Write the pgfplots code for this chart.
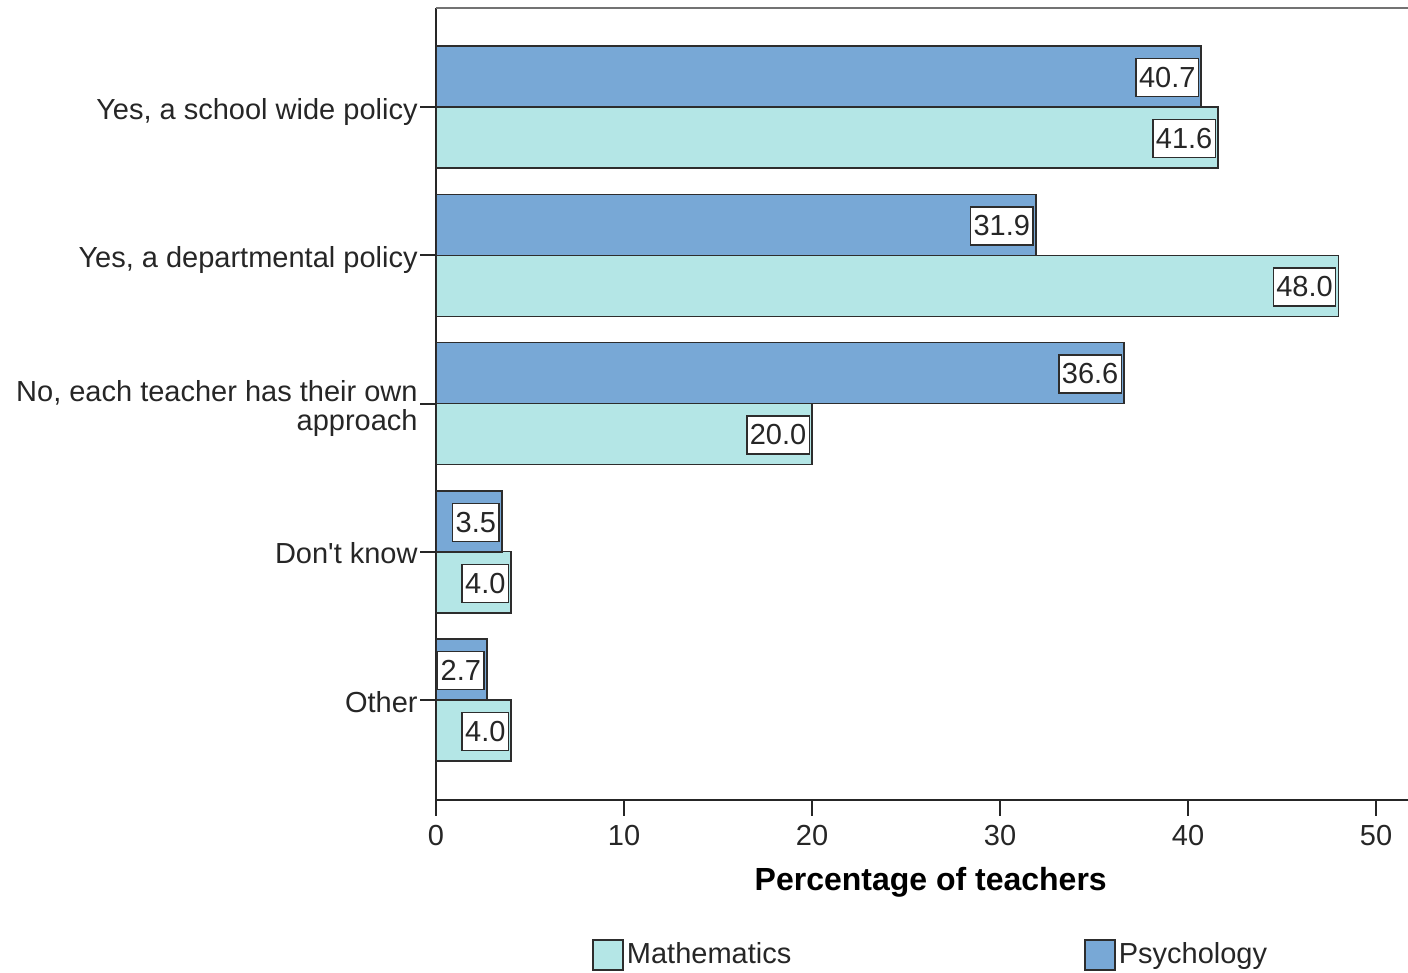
\documentclass[border=0pt]{standalone}
\usepackage{pgfplots}
\pgfplotsset{compat=1.18}
\usepackage{fontspec}
\setmainfont{Liberation Sans}
\definecolor{psy}{RGB}{120,168,214}
\definecolor{mth}{RGB}{180,230,230}
\definecolor{edge}{RGB}{45,45,45}
\begin{document}
\begin{tikzpicture}[x=1pt,y=1pt]
\path[use as bounding box] (0,0) rectangle (704,486.5);
\begin{axis}[
  at={(218pt,86.5pt)}, anchor=south west,
  scale only axis, width=486pt, height=396pt,
  xmin=0, xmax=51.70, ymin=-0.6745, ymax=4.668,
  xbar, bar width=0.4115,
  axis x line*=bottom, axis y line*=left,
  axis line style={-, black!85, line width=1pt},
  tick align=outside, major tick length=8pt,
  tick style={black!85, line width=1pt},
  xtick={0,10,...,50}, ytick={0,1,2,3,4},
  yticklabels={Other, Don\textquotesingle t know, {No, each teacher has their own\\approach}, {Yes, a departmental policy}, {Yes, a school wide policy}},
  yticklabel style={align=right, font=\fontsize{14.5}{14.5}\selectfont, inner sep=1pt, text depth=0pt, yshift=-0.75pt, text=black!85},
  xticklabel style={font=\fontsize{14.5}{15}\selectfont, text=black!85, yshift=-1pt},
  /pgf/number format/assume math mode=true,
  xlabel={Percentage of teachers},
  xlabel style={font=\fontsize{16}{18}\selectfont\bfseries, at={(rel axis cs:0.509,-0.104)}, anchor=center},
  point meta=x,
  nodes near coords={\pgfmathprintnumber[fixed,fixed zerofill,precision=1]{\pgfplotspointmeta}},
  every node near coord/.append style={anchor=east, fill=white, draw=edge, line width=0.75pt, inner xsep=1.5pt, inner ysep=0pt, minimum height=19pt, xshift=-1pt, yshift=-0.5pt, font=\fontsize{14.5}{15}\selectfont, text=black!85},
  legend columns=2,
  legend style={at={(rel axis cs:0.1605,-0.1957)}, anchor=west, draw=none, fill=none, inner sep=0pt, font=\fontsize{14.5}{15}\selectfont, text=black!85, nodes={inner sep=1.5pt}, /tikz/every even column/.append style={column sep=145pt}},
  legend image code/.code={\draw[#1] (0pt,-7.5pt) rectangle (15pt,7.5pt);},
]
\addplot[fill=mth, draw=edge, line width=0.75pt, bar shift=-0.2057] coordinates {(41.6,4) (48.0,3) (20.0,2) (4.0,1) (4.0,0)};
\addplot[fill=psy, draw=edge, line width=0.75pt, bar shift=0.2057] coordinates {(40.7,4) (31.9,3) (36.6,2) (3.5,1) (2.7,0)};
\legend{Mathematics, Psychology}
\draw[black!55, line width=1pt] (rel axis cs:0,1) -- (rel axis cs:1,1);
\end{axis}
\end{tikzpicture}
\end{document}
